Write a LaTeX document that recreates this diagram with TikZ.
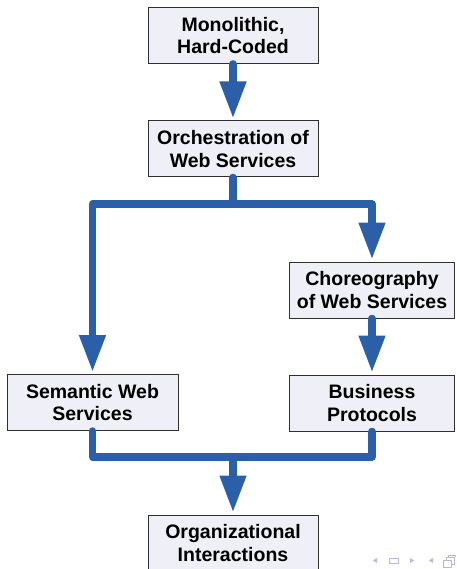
\documentclass[tikz,border=0pt]{standalone}
\usepackage{fontspec}
\setmainfont{Liberation Sans}
\usetikzlibrary{arrows.meta}
\definecolor{boxfill}{HTML}{EFEFF7}
\definecolor{boxline}{HTML}{303030}
\definecolor{flowblue}{HTML}{2B5FA8}
\definecolor{navcol}{HTML}{B8B8E2}
\tikzset{
  stage/.style={draw=boxline, line width=1pt, fill=boxfill, minimum height=56pt,
    align=center, inner sep=0pt, font=\fontsize{19.5pt}{22.5pt}\selectfont\bfseries},
  flow/.style={draw=flowblue, line width=7.5pt, line cap=round, line join=round},
  flowarrow/.style={flow, -{Triangle[width=25pt,length=37pt]}, shorten >=2pt},
}
\begin{document}
\begin{tikzpicture}[x=1pt,y=-1pt]
\path[use as bounding box, clip] (0,0) rectangle (456,569);
\fill[white] (0,0) rectangle (456,569);
% boxes
\node[stage, minimum width=170pt] (b1) at (233,35.5) {Monolithic,\\Hard-Coded};
\node[stage, minimum width=170pt] (b2) at (233,149) {Orchestration of\\Web Services};
\node[stage, minimum width=165pt] (b3) at (372,290) {Choreography\\of Web Services};
\node[stage, minimum width=171pt] (b5) at (92.5,402.5) {Semantic Web\\Services};
\node[stage, minimum width=165pt] (b4) at (372,403) {Business\\Protocols};
\node[stage, minimum width=170pt] (b6) at (233,543) {Organizational\\Interactions};
% connectors
\coordinate (j1) at (233,204);
\coordinate (j2) at (233,457);
\draw[flowarrow] (b1.south) -- (b2.north);
\draw[flow] (b2.south) -- (j1);
\draw[flowarrow] (j1) -| (b5.north);
\draw[flowarrow] (j1) -| (b3.north);
\draw[flowarrow] (b3.south) -- (b4.north);
\draw[flow] (b5.south) |- (j2);
\draw[flow] (b4.south) |- (j2);
\draw[flowarrow] (j2) -- (b6.north);
% navigation symbols
\fill[navcol] (373,560.5) -- (377,558) -- (377,563) -- cycle;
\draw[navcol, line width=1pt] (389,558) rectangle (398,563);
\fill[navcol] (414,560.5) -- (410,558) -- (410,563) -- cycle;
\fill[navcol] (429,560.5) -- (433,558) -- (433,563) -- cycle;
\draw[navcol, line width=1pt] (443,560) rectangle (451,567);
\draw[navcol, line width=1pt] (446,560) -- (446,557) -- (454,557) -- (454,564) -- (451,564);
\draw[navcol, line width=1pt] (448,557) -- (448,555) -- (455,555) -- (455,557);
\end{tikzpicture}
\end{document}
